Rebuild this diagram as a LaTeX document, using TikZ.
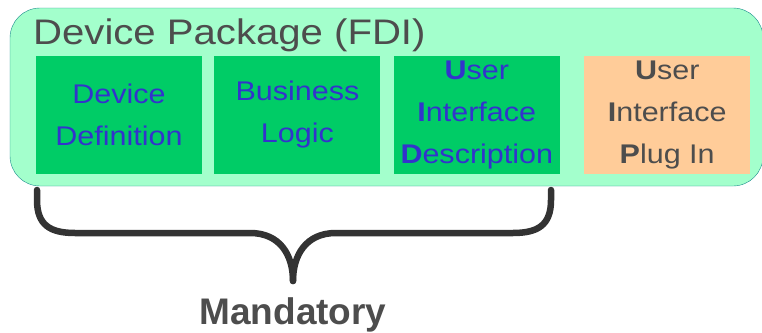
\documentclass[tikz,border=0pt]{standalone}
\usepackage{fontspec}
\setmainfont{Liberation Sans}
\newfontfamily\largo[FakeStretch=1.13]{Liberation Sans}
\usetikzlibrary{positioning}
\definecolor{pacote}{HTML}{A3FFCC}
\definecolor{borda}{HTML}{1A8C8C}
\definecolor{verde}{HTML}{00CC66}
\definecolor{laranja}{HTML}{FFCC99}
\definecolor{azul}{HTML}{3333CC}
\definecolor{cinza}{HTML}{4D4D4D}
\definecolor{chave}{HTML}{333333}
\begin{document}
\begin{tikzpicture}[x=1pt, y=-1pt,
	caixa/.style={minimum width=166pt, minimum height=118pt, inner sep=0pt,
		align=center, font=\largo\fontsize{27}{42}\selectfont},
	obrigatoria/.style={caixa, fill=verde, text=azul},
	opcional/.style={caixa, fill=laranja, text=cinza}]
	\useasboundingbox (0,0) rectangle (762,332);

	% O pacote inteiro...
		\draw[borda, fill=pacote, rounded corners=30pt] (10,8) rectangle (763,186);
		\node[anchor=base west, inner sep=0pt, text=cinza, font=\largo\fontsize{35.5}{42}\selectfont]
			(titulo) at (33,44) {Device Package (FDI)};

	% As caixas de dentro
		\node[obrigatoria] (def) at (119,115) {Device\\Definition};
		\node[obrigatoria, right=12pt of def] (logica) {Business\\Logic};
		\node[obrigatoria, right=13pt of logica] (uid) {\textbf{U}ser\\\textbf{I}nterface\\\textbf{D}escription};
		\node[opcional, right=24pt of uid] (uip) {\textbf{U}ser\\\textbf{I}nterface\\\textbf{P}lug In};

	% A chave embaixo
		\coordinate (esq) at (37,190);
		\coordinate (dir) at (551,190);
		\coordinate (ponta) at (293,281);
		\draw[chave, line width=6.5pt, line cap=round]
			(esq) -- ++(0,10) .. controls (37,225) and (50,233) .. (75,233) -- (250,233)
			.. controls (280,233) and (293,255) .. (ponta);
		\draw[chave, line width=6.5pt, line cap=round]
			(dir) -- ++(0,10) .. controls (551,225) and (538,233) .. (513,233) -- (336,233)
			.. controls (306,233) and (293,255) .. (ponta);
		\node[below=16pt of ponta, inner sep=0pt, text=cinza, font=\bfseries\fontsize{37}{42}\selectfont]
			(mandatory) {Mandatory};
\end{tikzpicture}
\end{document}
